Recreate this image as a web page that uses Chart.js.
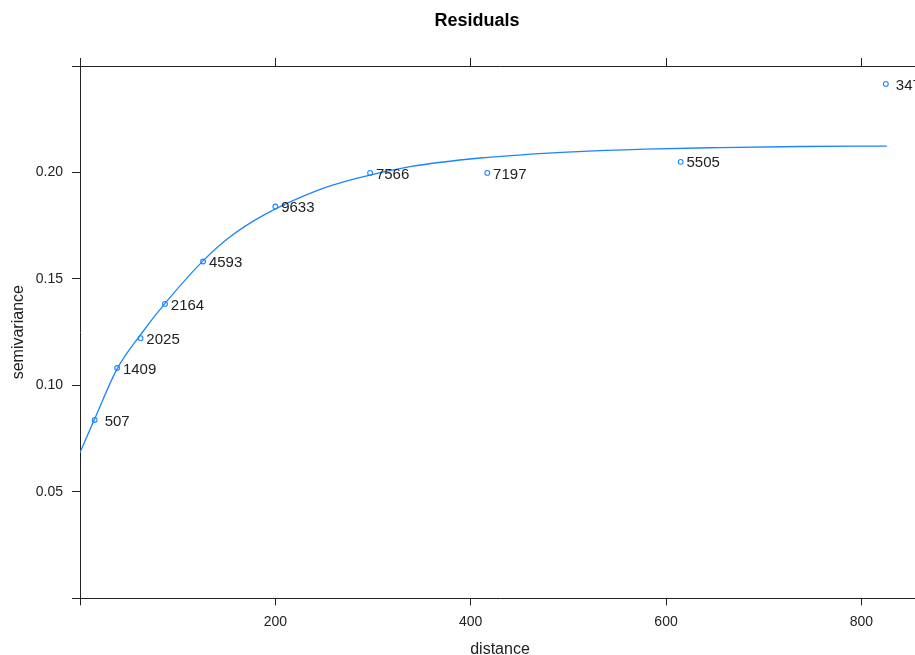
<!DOCTYPE html>
<html>
<head>
<meta charset="utf-8">
<title>Residuals</title>
<script src="https://cdn.jsdelivr.net/npm/chart.js@4/dist/chart.umd.min.js"></script>
<style>
  html, body { margin: 0; padding: 0; background: #fff; }
  #wrap { width: 915px; height: 655px; overflow: hidden; position: relative; }
  canvas { display: block; }
</style>
</head>
<body>
<div id="wrap"><canvas id="chart" width="960" height="655"></canvas></div>
<script>
// Empirical semivariogram of the residuals
const distance = [15, 38, 62, 87, 126, 200, 297, 417, 615, 825];
const semivariance = [0.0838, 0.1082, 0.1222, 0.1383, 0.1582, 0.1840, 0.1998, 0.1998, 0.2050, 0.2416];
const pairCounts = ['507', '1409', '2025', '2164', '4593', '9633', '7566', '7197', '5505', '347'];

// Fitted variogram model, sampled along distance
const modelDistance = [0, 15, 38, 62, 87, 126, 154, 188, 242, 283, 338, 410, 505, 579, 655, 737, 826];
const modelGamma = [0.0685, 0.0843, 0.1078, 0.1238, 0.1385, 0.1585, 0.1699, 0.1800, 0.1914, 0.1972, 0.2027, 0.2068, 0.2097, 0.2110, 0.2117, 0.2122, 0.2124];

// Axis ticks
const xTicks = [0, 200, 400, 600, 800];
const yTicks = [0, 0.05, 0.10, 0.15, 0.20, 0.25];
const yLabelled = [0.05, 0.10, 0.15, 0.20];

const BLUE = '#1a85ff';
const INK = '#222222';
const FONT = "'Liberation Sans', Arial, sans-serif";

const toXY = (xs, ys) => xs.map((x, i) => ({ x: x, y: ys[i] }));

// Pair counts written beside each semivariance point
const pointLabels = {
  id: 'pointLabels',
  afterDatasetsDraw(chart) {
    const meta = chart.getDatasetMeta(1);
    const ctx = chart.ctx;
    ctx.save();
    ctx.font = '15px ' + FONT;
    ctx.fillStyle = INK;
    ctx.textAlign = 'center';
    ctx.textBaseline = 'middle';
    meta.data.forEach((pt, i) => {
      ctx.fillText(pairCounts[i], pt.x + 22.5, pt.y + 1.5);
    });
    ctx.restore();
  }
};

const fixedTicks = (values) => (scale) => {
  scale.ticks = values.map(v => ({ value: v }));
};

new Chart(document.getElementById('chart'), {
  type: 'scatter',
  data: {
    datasets: [
      {
        type: 'line',
        data: toXY(modelDistance, modelGamma),
        borderColor: BLUE,
        borderWidth: 1.3,
        pointRadius: 0,
        fill: false,
        cubicInterpolationMode: 'monotone'
      },
      {
        data: toXY(distance, semivariance),
        showLine: false,
        pointRadius: 2.4,
        pointBorderWidth: 1.1,
        pointBorderColor: BLUE,
        pointBackgroundColor: 'rgba(255,255,255,0)'
      }
    ]
  },
  options: {
    responsive: false,
    animation: false,
    devicePixelRatio: 1,
    layout: { padding: { left: 0, right: 6, top: 0, bottom: 0 } },
    plugins: {
      legend: { display: false },
      tooltip: { enabled: false },
      title: {
        display: true,
        text: 'Residuals',
        color: '#000',
        font: { family: FONT, size: 18, weight: 'bold', lineHeight: 1.2 },
        padding: { top: 10, bottom: 0 }
      }
    },
    scales: {
      x: {
        type: 'linear',
        position: 'bottom',
        min: 0,
        max: 860,
        afterBuildTicks: fixedTicks(xTicks),
        afterFit: (s) => { s.height = 56.6; },
        grid: { drawOnChartArea: false, tickLength: 7, color: INK, lineWidth: 1 },
        border: { display: true, color: INK, width: 1 },
        ticks: {
          maxRotation: 0,
          padding: 8,
          color: INK,
          font: { family: FONT, size: 14 },
          callback: (v) => (v === 0 ? '' : String(v))
        },
        title: {
          display: true,
          text: 'distance',
          color: INK,
          font: { family: FONT, size: 16, lineHeight: 1 },
          padding: { top: 0, bottom: -3 }
        }
      },
      xTop: {
        type: 'linear',
        position: 'top',
        min: 0,
        max: 860,
        afterBuildTicks: fixedTicks(xTicks),
        afterFit: (s) => { s.height = 34.4; },
        grid: { drawOnChartArea: false, tickLength: 8, color: INK, lineWidth: 1 },
        border: { display: true, color: INK, width: 1 },
        ticks: { display: false }
      },
      y: {
        type: 'linear',
        position: 'left',
        min: 0,
        max: 0.25,
        afterBuildTicks: fixedTicks(yTicks),
        afterFit: (s) => { s.width = 80; },
        grid: { drawOnChartArea: false, tickLength: 8, color: INK, lineWidth: 1 },
        border: { display: true, color: INK, width: 1 },
        ticks: {
          padding: 9,
          color: INK,
          font: { family: FONT, size: 14 },
          callback: (v) => {
            const hit = yLabelled.some(t => Math.abs(t - v) < 1e-9);
            return hit ? v.toFixed(2) : '';
          }
        },
        title: {
          display: true,
          text: 'semivariance',
          color: INK,
          font: { family: FONT, size: 16, lineHeight: 1.2 },
          padding: { top: 9, bottom: 0 }
        }
      },
      // empty margin on the right of the plotting box
      yRight: {
        type: 'linear',
        position: 'right',
        min: 0,
        max: 0.25,
        afterFit: (s) => { s.width = 34; },
        grid: { display: false },
        border: { display: false },
        ticks: { display: false }
      }
    }
  },
  plugins: [pointLabels]
});
</script>
</body>
</html>
